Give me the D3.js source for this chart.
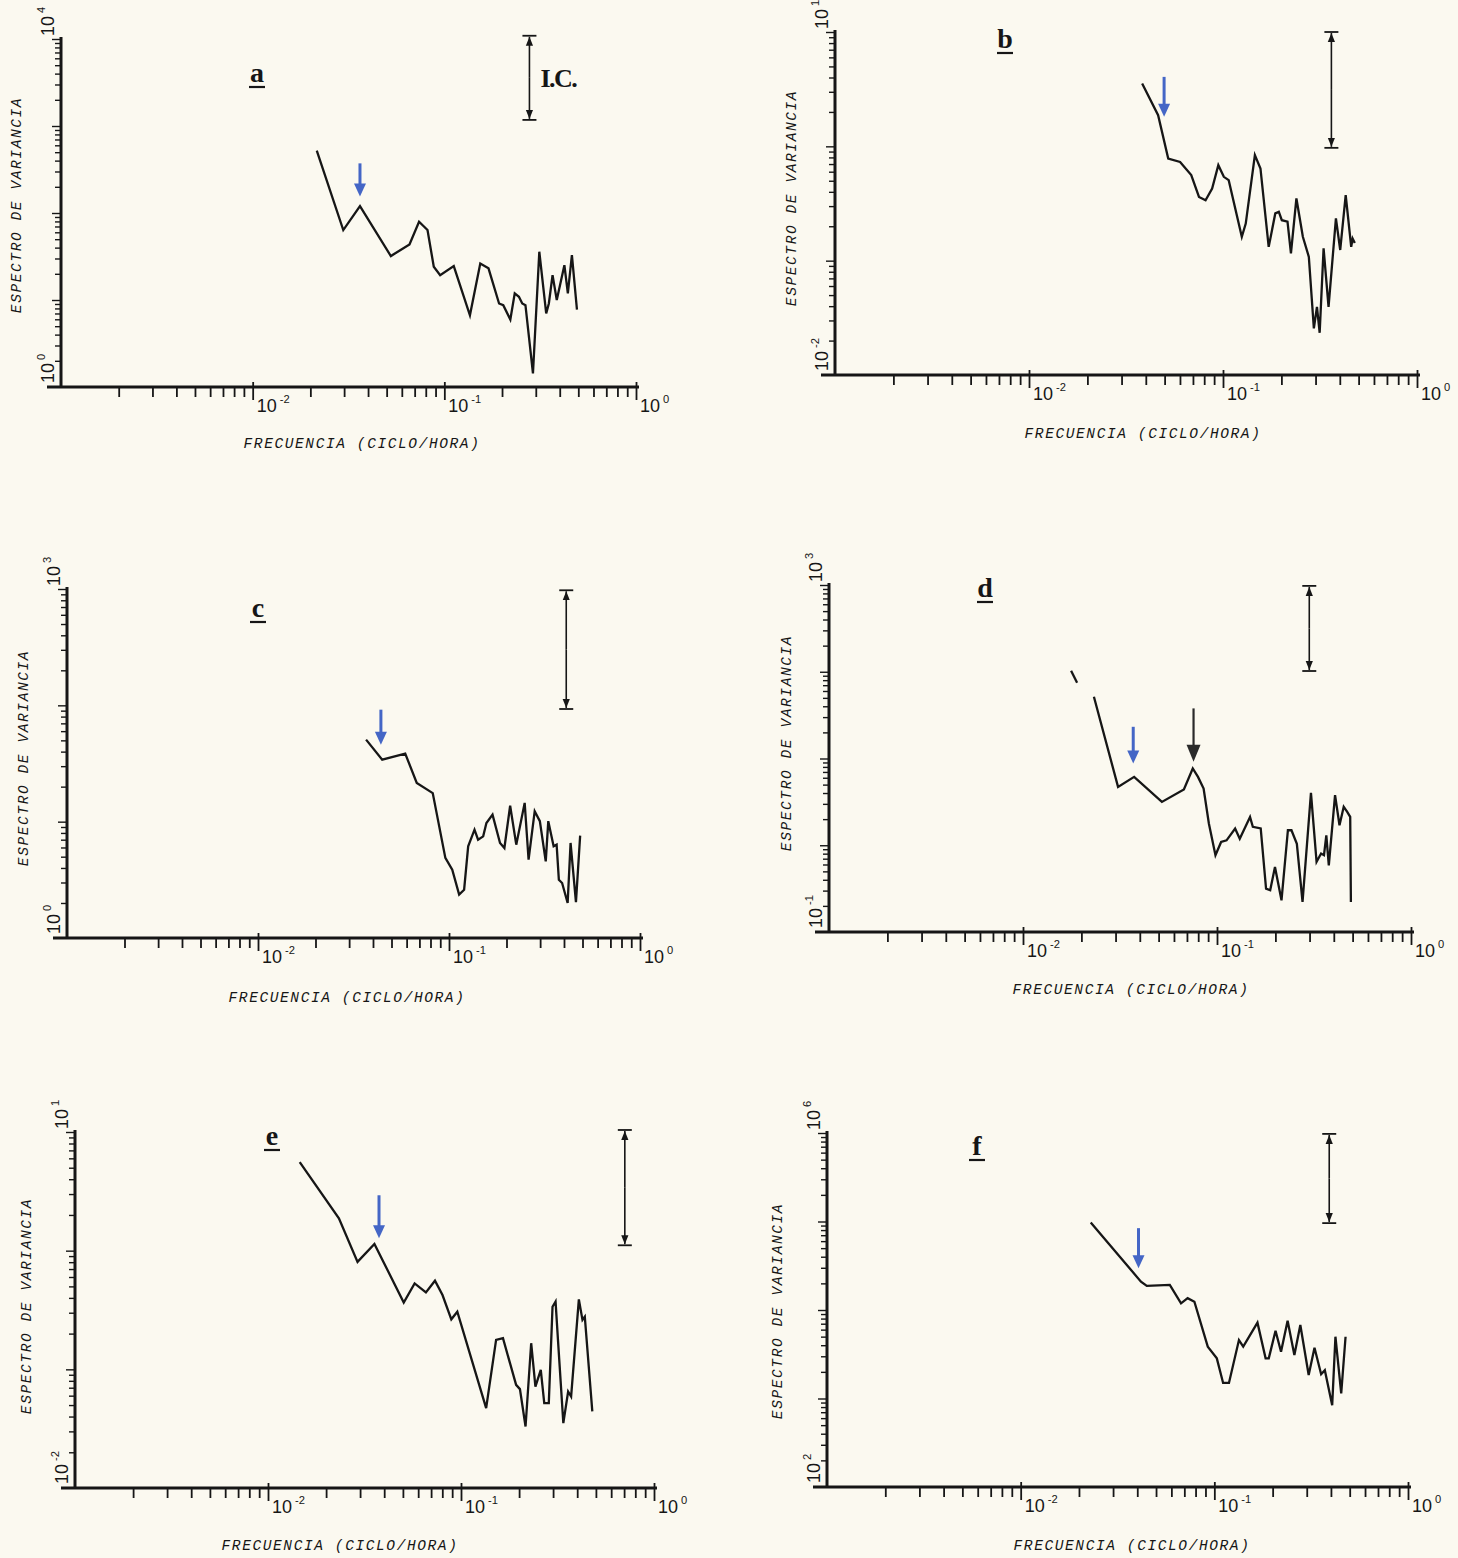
<!DOCTYPE html>
<html>
<head>
<meta charset="utf-8">
<script src="https://cdn.jsdelivr.net/npm/d3@7"></script>
<style>
  body { margin: 0; background: #fbf9f0; }
  svg { display: block; }
</style>
</head>
<body>
<svg id="fig" width="1458" height="1558"></svg>
<script>
const W = 1458, H = 1558;
const ink = "#161616", blue = "#4466c6";

// panel letters and y-axis decades (exponents of 10)
const panelNames = ["a", "b", "c", "d", "e", "f"];
const yLowExp = [0, -2, 0, -1, -2, 2];
const yHighExp = [4, 1, 3, 3, 1, 6];
const xLabelExp = [-2, -1, 0];

// spectra: frequency (ciclo/hora) and variance spectrum
const freqA = [0.0216, 0.0297, 0.0363, 0.0526, 0.0658, 0.0738, 0.0817, 0.0881, 0.0951, 0.112, 0.136, 0.154, 0.170, 0.193, 0.203, 0.221, 0.233, 0.245, 0.255, 0.265, 0.290, 0.313, 0.340, 0.351, 0.367, 0.386, 0.423, 0.441, 0.463, 0.492];
const specA = [522, 63.7, 120, 32.0, 43.6, 79.4, 63.7, 24.1, 19.3, 24.5, 6.68, 26.3, 23.1, 9.12, 8.71, 5.96, 11.9, 10.9, 9.12, 8.71, 1.43, 35.9, 7.0, 9.12, 19.3, 10.0, 25.1, 11.9, 32.8, 7.76];

const freqB = [0.0383, 0.0463, 0.0522, 0.0601, 0.0686, 0.0752, 0.0813, 0.0879, 0.0946, 0.101, 0.107, 0.125, 0.131, 0.146, 0.156, 0.172, 0.186, 0.194, 0.201, 0.215, 0.224, 0.239, 0.258, 0.277, 0.294, 0.305, 0.315, 0.330, 0.350, 0.382, 0.402, 0.429, 0.458, 0.466, 0.478];
const specB = [3.54, 1.87, 0.782, 0.731, 0.560, 0.361, 0.338, 0.428, 0.684, 0.541, 0.506, 0.162, 0.211, 0.838, 0.640, 0.132, 0.259, 0.267, 0.226, 0.219, 0.116, 0.350, 0.162, 0.108, 0.0256, 0.0395, 0.0234, 0.128, 0.0395, 0.234, 0.124, 0.374, 0.132, 0.156, 0.143];

const freqC = [0.0368, 0.0447, 0.0590, 0.0678, 0.0822, 0.0957, 0.104, 0.113, 0.120, 0.126, 0.136, 0.142, 0.151, 0.157, 0.169, 0.185, 0.195, 0.209, 0.225, 0.249, 0.261, 0.281, 0.299, 0.321, 0.331, 0.353, 0.366, 0.376, 0.391, 0.418, 0.433, 0.462, 0.486];
const specC = [50.7, 34.1, 38.5, 21.5, 17.6, 4.88, 3.86, 2.36, 2.60, 6.14, 8.53, 7.0, 7.48, 9.75, 11.5, 6.56, 5.94, 13.7, 6.34, 14.5, 4.71, 12.3, 10.1, 4.56, 10.1, 6.14, 6.34, 3.17, 2.97, 2.0, 6.56, 2.03, 7.59];

const freqD = [0.0232, 0.0309, 0.0374, 0.0520, 0.0675, 0.0750, 0.0798, 0.0853, 0.0908, 0.0982, 0.105, 0.112, 0.124, 0.131, 0.148, 0.153, 0.168, 0.179, 0.188, 0.199, 0.215, 0.232, 0.242, 0.258, 0.276, 0.305, 0.326, 0.344, 0.356, 0.366, 0.377, 0.406, 0.428, 0.450, 0.469, 0.486, 0.490];
const specD = [51.5, 4.71, 6.14, 3.16, 4.39, 7.67, 6.14, 4.51, 1.78, 0.767, 1.09, 1.14, 1.56, 1.19, 2.12, 1.63, 1.56, 0.316, 0.303, 0.562, 0.232, 1.49, 1.49, 1.04, 0.222, 4.02, 0.643, 0.802, 0.767, 1.30, 0.587, 3.78, 1.70, 2.77, 2.43, 2.12, 0.222];
// short detached stroke left of the d curve
const freqDTail = [0.0177, 0.0190];
const specDTail = [103, 74.8];

const freqE = [0.0146, 0.0233, 0.0291, 0.0356, 0.0505, 0.0575, 0.0658, 0.0733, 0.0802, 0.0891, 0.0957, 0.135, 0.152, 0.165, 0.193, 0.202, 0.216, 0.231, 0.243, 0.259, 0.270, 0.285, 0.298, 0.309, 0.318, 0.339, 0.359, 0.372, 0.408, 0.426, 0.438, 0.479];
const specE = [5.58, 1.87, 0.805, 1.14, 0.366, 0.530, 0.445, 0.558, 0.423, 0.264, 0.306, 0.0471, 0.177, 0.183, 0.0740, 0.0681, 0.0330, 0.166, 0.0716, 0.0989, 0.0519, 0.0519, 0.337, 0.372, 0.177, 0.0352, 0.0650, 0.0590, 0.389, 0.261, 0.278, 0.0442];

const freqF = [0.0230, 0.0418, 0.0448, 0.0589, 0.0673, 0.0728, 0.0789, 0.0925, 0.103, 0.111, 0.119, 0.134, 0.141, 0.167, 0.184, 0.191, 0.207, 0.221, 0.239, 0.259, 0.278, 0.307, 0.329, 0.356, 0.372, 0.406, 0.422, 0.452, 0.476];
const specF = [97500, 20900, 18700, 19200, 11900, 13600, 12400, 3850, 2840, 1500, 1500, 4570, 3850, 7190, 2840, 2840, 5830, 3370, 7570, 3100, 6760, 1840, 3750, 1880, 2090, 841, 4990, 1140, 4990];

// confidence interval bars (I.C.)
const ciFreq = [0.278, 0.362, 0.411, 0.299, 0.706, 0.392];
const ciLow = [1175, 0.97, 93, 102, 1.11, 95900];
const ciHigh = [10900, 10, 975, 977, 10.4, 977000];

// marker arrows: frequency, tail value, tip value
const arrowPanel = [0, 1, 2, 3, 3, 4, 5];
const arrowFreq = [0.0363, 0.0497, 0.044, 0.037, 0.0757, 0.0376, 0.0406];
const arrowTail = [372, 4.05, 91.8, 23.2, 37.8, 2.93, 84100];
const arrowTip = [155, 1.81, 45.9, 8.75, 9.16, 1.27, 29600];
const arrowBlue = [true, true, true, true, false, true, true];

const series = [
  [[freqA, specA]],
  [[freqB, specB]],
  [[freqC, specC]],
  [[freqD, specD], [freqDTail, specDTail]],
  [[freqE, specE]],
  [[freqF, specF]]
];

// page layout of the six panels
const layout = [
  { left: 61, right: 636, top: 39, bottom: 387, letter: [257, 82], xt: [362, 448], yt: [16, 205] },
  { left: 835, right: 1417, top: 32, bottom: 375, letter: [1005, 48], xt: [1143, 438], yt: [791, 198] },
  { left: 67, right: 640, top: 589, bottom: 938, letter: [258, 617], xt: [347, 1002], yt: [23, 758] },
  { left: 829, right: 1411, top: 585, bottom: 932, letter: [985, 597], xt: [1131, 994], yt: [786, 743] },
  { left: 75, right: 654, top: 1132, bottom: 1488, letter: [272, 1145], xt: [340, 1550], yt: [26, 1306] },
  { left: 827, right: 1408, top: 1133, bottom: 1487, letter: [977, 1155], xt: [1132, 1550], yt: [777, 1311] }
];

const svg = d3.select("#fig");
svg.append("rect").attr("width", W).attr("height", H).attr("fill", "#fbf9f0");

const defs = svg.append("defs");
defs.append("marker").attr("id", "ciHead")
  .attr("viewBox", "0 0 10 10").attr("refX", 10).attr("refY", 5)
  .attr("markerWidth", 9).attr("markerHeight", 9).attr("markerUnits", "userSpaceOnUse")
  .attr("orient", "auto")
  .append("path").attr("d", "M0,1 L10,5 L0,9 Z").attr("fill", ink);

const monoFont = "'Liberation Mono', 'DejaVu Sans Mono', monospace";
const tickFont = "'Liberation Sans Narrow', 'Liberation Sans', Arial, sans-serif";
const serifFont = "'Liberation Serif', 'DejaVu Serif', serif";

function powerLabel(sel, exp, size) {
  sel.append("tspan").text("10");
  sel.append("tspan")
    .attr("dy", -size * 0.5)
    .attr("dx", 3)
    .attr("font-size", size * 0.62)
    .text(String(exp));
}

panelNames.forEach((name, i) => {
  const p = layout[i];
  const g = svg.append("g");
  const x = d3.scaleLog().domain([1e-3, 1]).range([p.left, p.right]);
  const y = d3.scaleLog().domain([Math.pow(10, yLowExp[i]), Math.pow(10, yHighExp[i])]).range([p.bottom, p.top]);

  // x axis ticks (hanging below the base line)
  const xTicks = x.ticks().filter(v => v > 1.0001e-3);
  const isDecade = v => Math.abs(Math.log10(v) - Math.round(Math.log10(v))) < 1e-6;
  const xAxis = g.append("g")
    .attr("transform", `translate(0,${p.bottom})`)
    .call(d3.axisBottom(x).tickValues(xTicks).tickSize(10).tickFormat(""));
  xAxis.select(".domain").remove();
  xAxis.selectAll(".tick line")
    .attr("stroke", ink).attr("stroke-width", 1.8)
    .attr("y1", d => isDecade(d) ? -5 : 0)
    .attr("y2", d => isDecade(d) ? 13 : 10);

  // y axis ticks (small marks to the left)
  const yTicks = y.ticks().filter(v => v > Math.pow(10, yLowExp[i]) * 1.0001);
  const yAxis = g.append("g")
    .attr("transform", `translate(${p.left},0)`)
    .call(d3.axisLeft(y).tickValues(yTicks).tickSize(6).tickFormat(""));
  yAxis.select(".domain").remove();
  yAxis.selectAll(".tick line")
    .attr("stroke", ink).attr("stroke-width", 1.4)
    .attr("x2", d => isDecade(d) ? -9 : -6);

  // axis base lines
  g.append("line")
    .attr("x1", p.left - 14).attr("x2", p.right + 3)
    .attr("y1", p.bottom).attr("y2", p.bottom)
    .attr("stroke", ink).attr("stroke-width", 3.2);
  g.append("line")
    .attr("x1", p.left).attr("x2", p.left)
    .attr("y1", p.top - 2).attr("y2", p.bottom + 1)
    .attr("stroke", ink).attr("stroke-width", 3);

  // x tick labels 10^-2, 10^-1, 10^0
  xLabelExp.forEach(e => {
    const t = g.append("text")
      .attr("x", x(Math.pow(10, e)) + 4)
      .attr("y", p.bottom + 25)
      .attr("font-family", tickFont)
      .attr("font-size", 18)
      .attr("fill", ink);
    powerLabel(t, e, 18);
  });

  // y end labels, rotated
  [[yHighExp[i], p.top - 3], [yLowExp[i], p.bottom - 4]].forEach(([e, yy]) => {
    const t = g.append("text")
      .attr("transform", `translate(${p.left - 7},${yy}) rotate(-90)`)
      .attr("font-family", tickFont)
      .attr("font-size", 18)
      .attr("fill", ink);
    powerLabel(t, e, 18);
  });

  // axis titles
  g.append("text")
    .attr("x", p.xt[0]).attr("y", p.xt[1])
    .attr("text-anchor", "middle")
    .attr("font-family", monoFont).attr("font-style", "italic")
    .attr("font-size", 14.5).attr("letter-spacing", 1.6)
    .attr("fill", ink)
    .text("FRECUENCIA (CICLO/HORA)");
  g.append("text")
    .attr("transform", `translate(${p.yt[0] + 5},${p.yt[1]}) rotate(-90)`)
    .attr("text-anchor", "middle")
    .attr("font-family", monoFont).attr("font-style", "italic")
    .attr("font-size", 14.5).attr("letter-spacing", 1.6)
    .attr("fill", ink)
    .text("ESPECTRO DE VARIANCIA");

  // panel letter, underlined
  g.append("text")
    .attr("x", p.letter[0]).attr("y", p.letter[1])
    .attr("text-anchor", "middle")
    .attr("font-family", serifFont).attr("font-weight", "bold")
    .attr("font-size", 28).attr("fill", ink)
    .text(name);
  g.append("line")
    .attr("x1", p.letter[0] - 8).attr("x2", p.letter[0] + 8)
    .attr("y1", p.letter[1] + 5).attr("y2", p.letter[1] + 5)
    .attr("stroke", ink).attr("stroke-width", 2.2);

  // spectrum line(s)
  const line = d3.line().x(d => x(d[0])).y(d => y(d[1]));
  series[i].forEach(([fr, sp]) => {
    g.append("path")
      .datum(fr.map((f, k) => [f, sp[k]]))
      .attr("fill", "none")
      .attr("stroke", ink)
      .attr("stroke-width", 2.3)
      .attr("stroke-linejoin", "miter")
      .attr("d", line);
  });

  // confidence interval bar
  const cx = x(ciFreq[i]), cTop = y(ciHigh[i]), cBot = y(ciLow[i]);
  const cMid = (cTop + cBot) / 2;
  g.append("line")
    .attr("x1", cx).attr("x2", cx)
    .attr("y1", cMid).attr("y2", cTop + 1)
    .attr("stroke", ink).attr("stroke-width", 1.6)
    .attr("marker-end", "url(#ciHead)");
  g.append("line")
    .attr("x1", cx).attr("x2", cx)
    .attr("y1", cMid).attr("y2", cBot - 1)
    .attr("stroke", ink).attr("stroke-width", 1.6)
    .attr("marker-end", "url(#ciHead)");
  [cTop, cBot].forEach(cy => {
    g.append("line")
      .attr("x1", cx - 7).attr("x2", cx + 7)
      .attr("y1", cy).attr("y2", cy)
      .attr("stroke", ink).attr("stroke-width", 1.8);
  });
  if (i === 0) {
    g.append("text")
      .attr("x", cx + 11).attr("y", cMid + 9)
      .attr("font-family", serifFont).attr("font-weight", "bold")
      .attr("font-size", 26).attr("letter-spacing", -1.5)
      .attr("fill", ink)
      .text("I.C.");
  }

  // marker arrows
  arrowPanel.forEach((pi, k) => {
    if (pi !== i) return;
    const ax = x(arrowFreq[k]), y0 = y(arrowTail[k]), y1 = y(arrowTip[k]);
    const col = arrowBlue[k] ? blue : "#2a2a2a";
    const headH = arrowBlue[k] ? 13 : 17, headW = arrowBlue[k] ? 6 : 7;
    g.append("line")
      .attr("x1", ax).attr("x2", ax)
      .attr("y1", y0).attr("y2", y1 - headH + 2)
      .attr("stroke", col).attr("stroke-width", arrowBlue[k] ? 3 : 2.2);
    g.append("path")
      .attr("d", `M${ax - headW},${y1 - headH} L${ax + headW},${y1 - headH} L${ax},${y1} Z`)
      .attr("fill", col);
  });
});
</script>
</body>
</html>
